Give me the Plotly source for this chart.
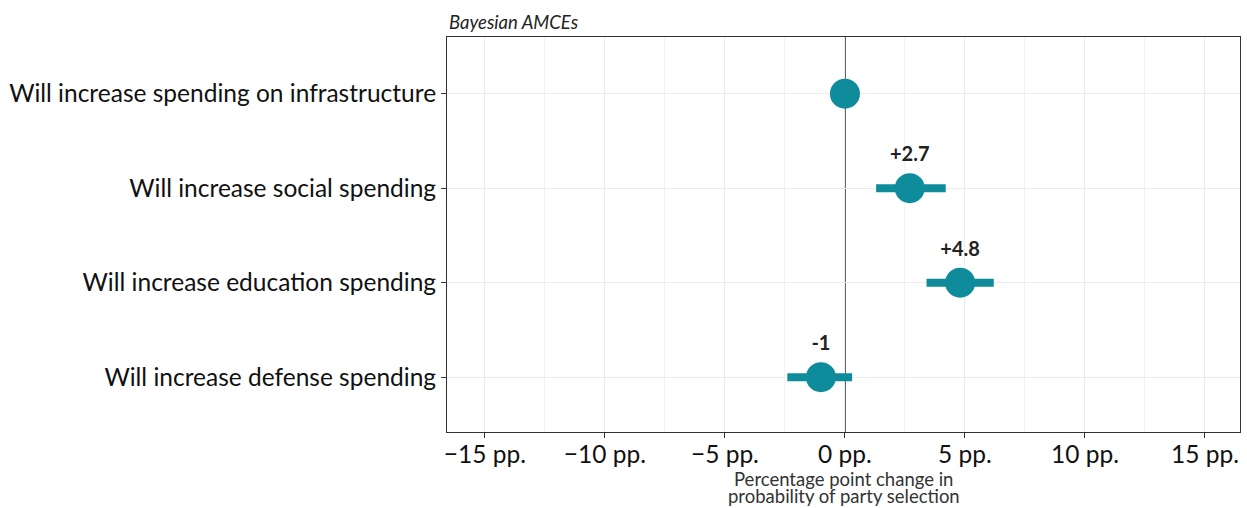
import plotly.graph_objects as go

categories = ["Will increase defense spending", "Will increase education spending",
              "Will increase social spending", "Will increase spending on infrastructure"]
estimates = [-1.0, 4.8, 2.7, 0.0]
lower = [-2.4, 3.4, 1.3, None]
upper = [0.3, 6.2, 4.2, None]
labels = ["-1", "+4.8", "+2.7", ""]
tick_vals = [-15, -10, -5, 0, 5, 10, 15]
tick_text = ["\u221215 pp.", "\u221210 pp.", "\u22125 pp.", "0 pp.", "5 pp.", "10 pp.", "15 pp."]
x_title_lines = ["Percentage point change in", "probability of party selection"]

color = "#0f8c9c"
fig = go.Figure()

ypos = list(range(len(categories)))
for i in ypos:
    if lower[i] is not None:
        fig.add_trace(go.Scatter(x=[lower[i], upper[i]], y=[i, i], mode="lines",
                                 line=dict(color=color, width=8), showlegend=False,
                                 hoverinfo="skip"))

fig.add_trace(go.Scatter(x=estimates, y=ypos, mode="markers",
                         marker=dict(color=color, size=30), showlegend=False))

fig.add_trace(go.Scatter(x=estimates, y=[i + 0.34 for i in ypos], mode="text",
                         text=labels, textfont=dict(family="Lato", size=20, color="#222"),
                         texttemplate="<b>%{text}</b>", showlegend=False))

fig.add_shape(type="line", x0=0, x1=0, y0=0, y1=1, yref="paper", xref="x",
              line=dict(color="#222", width=1.5), layer="below")

annotations = [
    dict(text="<i>Bayesian AMCEs</i>", x=0, xref="paper", y=1, yref="paper",
         xanchor="left", yanchor="bottom", yshift=2, showarrow=False,
         font=dict(family="Lato", size=18.5, color="#222")),
]
for k, line in enumerate(x_title_lines):
    annotations.append(dict(text=line, x=0.5, xref="paper", y=0, yref="paper",
                            xanchor="center", yanchor="middle", yshift=-47 - 17 * k,
                            showarrow=False,
                            font=dict(family="Lato", size=18.5, color="#333")))

fig.update_layout(
    width=1247, height=508,
    margin=dict(l=447, r=7, t=37, b=76),
    plot_bgcolor="white", paper_bgcolor="white",
    font=dict(family="Lato", color="#111"),
    xaxis=dict(range=[-16.58, 16.46], tickvals=tick_vals, ticktext=tick_text,
               tickfont=dict(size=24.5, color="#111"), showgrid=True, gridcolor="#ebebeb",
               gridwidth=1, minor=dict(dtick=2.5, showgrid=True, gridcolor="#f3f3f3"),
               zeroline=False, showline=True, linecolor="#333", linewidth=1, mirror=True,
               ticks="outside", ticklen=5, tickcolor="#333", automargin=False,
               ticklabelstandoff=-4),
    yaxis=dict(range=[-0.58, 3.6], tickvals=ypos, ticktext=categories,
               tickfont=dict(size=24.5, color="#111"), showgrid=True, gridcolor="#ebebeb",
               zeroline=False, showline=True, linecolor="#333", linewidth=1, mirror=True,
               ticks="outside", ticklen=5, tickcolor="#333", automargin=False),
    annotations=annotations,
)

fig.write_html("out.html", post_script="document.body.style.margin='0px';",
               config={"displayModeBar": False})
